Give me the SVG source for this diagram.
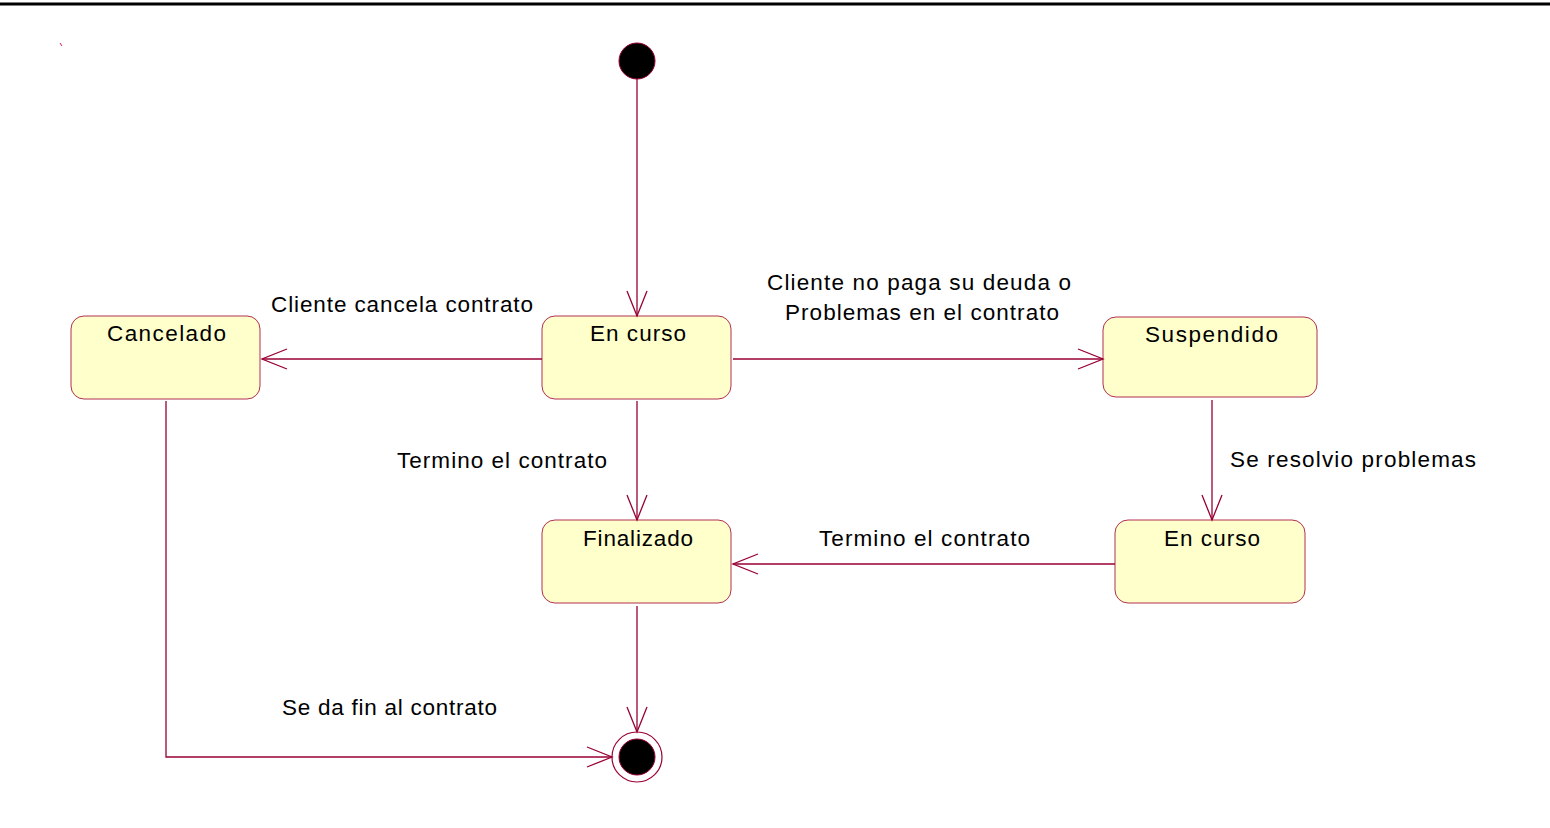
<svg xmlns="http://www.w3.org/2000/svg" width="1550" height="828" viewBox="0 0 1550 828">
<style>
.st{fill:#ffffcc;stroke:#b03050;stroke-width:1}
.t{font-family:"Liberation Sans",Arial,sans-serif;font-size:22.5px;fill:#000}
.c{text-anchor:middle}
.ln{fill:none;stroke:#990033;stroke-width:1.3}
.ah{fill:none;stroke:#990033;stroke-width:1.3}
</style>
<rect width="1550" height="828" fill="#fff"/>
<line x1="0" y1="4" x2="1550" y2="4" stroke="#000" stroke-width="3"/>
<line x1="60" y1="43" x2="62" y2="46" stroke="#cc2050" stroke-width="1"/>
<g id="start"><circle cx="637" cy="61" r="18" fill="#000" stroke="#990033" stroke-width="1"/></g>
<g id="end"><circle cx="637" cy="757" r="25" fill="#fff" stroke="#990033" stroke-width="1.2"/><circle cx="637" cy="757" r="18" fill="#000" stroke="#990033" stroke-width="1"/></g>
<g id="encurso1"><rect class="st" x="542" y="316" width="189" height="83" rx="13"/><text class="t" x="590" y="341" textLength="96" lengthAdjust="spacing">En curso</text></g>
<g id="cancelado"><rect class="st" x="71" y="316" width="189" height="83" rx="13"/><text class="t" x="107" y="341" textLength="119" lengthAdjust="spacing">Cancelado</text></g>
<g id="suspendido"><rect class="st" x="1103" y="317" width="214" height="80" rx="13"/><text class="t" x="1145" y="342" textLength="133" lengthAdjust="spacing">Suspendido</text></g>
<g id="finalizado"><rect class="st" x="542" y="520" width="189" height="83" rx="13"/><text class="t" x="583" y="546" textLength="110" lengthAdjust="spacing">Finalizado</text></g>
<g id="encurso2"><rect class="st" x="1115" y="520" width="190" height="83" rx="13"/><text class="t" x="1164" y="546" textLength="96" lengthAdjust="spacing">En curso</text></g>
<g id="connectors">
<path class="ln" d="M637 79V316"/><path class="ah" d="M627 291L637 316L647 291"/>
<path class="ln" d="M542 359H262"/><path class="ah" d="M287 349L262 359L287 369"/>
<path class="ln" d="M733 359H1103"/><path class="ah" d="M1078 349L1103 359L1078 369"/>
<path class="ln" d="M1212 400V520"/><path class="ah" d="M1202 495L1212 520L1222 495"/>
<path class="ln" d="M1115 564H733"/><path class="ah" d="M758 554L733 564L758 574"/>
<path class="ln" d="M637 401V520"/><path class="ah" d="M627 495L637 520L647 495"/>
<path class="ln" d="M637 606V732"/><path class="ah" d="M627 707L637 732L647 707"/>
<path class="ln" d="M166 401V757H612"/><path class="ah" d="M587 747L612 757L587 767"/>
</g>
<g id="labels">
<text class="t" x="271" y="312" textLength="262" lengthAdjust="spacing">Cliente cancela contrato</text>
<text class="t" x="767" y="290" textLength="304" lengthAdjust="spacing">Cliente no paga su deuda o</text>
<text class="t" x="785" y="320" textLength="274" lengthAdjust="spacing">Problemas en el contrato</text>
<text class="t" x="397" y="468" textLength="210" lengthAdjust="spacing">Termino el contrato</text>
<text class="t" x="1230" y="467" textLength="246" lengthAdjust="spacing">Se resolvio problemas</text>
<text class="t" x="819" y="546" textLength="211" lengthAdjust="spacing">Termino el contrato</text>
<text class="t" x="282" y="715" textLength="215" lengthAdjust="spacing">Se da fin al contrato</text>
</g>
</svg>
